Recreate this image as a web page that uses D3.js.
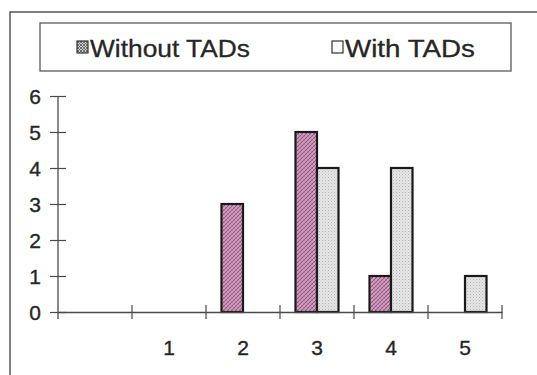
<!DOCTYPE html>
<html>
<head>
<meta charset="utf-8">
<script src="https://cdn.jsdelivr.net/npm/d3@7"></script>
<style>
  html, body { margin: 0; padding: 0; background: #fff; }
  svg { display: block; font-family: "Liberation Sans", Arial, sans-serif; }
</style>
</head>
<body>
<svg id="chart" width="537" height="375"></svg>
<script>
// Category labels along the x axis (the first slot is left blank)
const xLabels = ["", "1", "2", "3", "4", "5"];
const seriesNames = ["Without TADs", "With TADs"];
const withoutTADs = [0, 0, 3, 5, 1, 0];
const withTADs = [0, 0, 0, 4, 4, 1];
const yTicks = [0, 1, 2, 3, 4, 5, 6];

const svg = d3.select("#chart");
const ink = "#262626";
const axisInk = "#4a4a4a";

// Hatch patterns for the two series
const defs = svg.append("defs");
const pPink = defs.append("pattern").attr("id", "pinkHatch")
  .attr("patternUnits", "userSpaceOnUse").attr("width", 4).attr("height", 4);
pPink.append("rect").attr("width", 4).attr("height", 4).attr("fill", "#d49cc2");
pPink.append("path").attr("d", "M0,4 L4,0 M-1,1 L1,-1 M3,5 L5,3")
  .attr("stroke", "#835271").attr("stroke-width", 0.9);
pPink.append("path").attr("d", "M0,0 L4,4")
  .attr("stroke", "#a46b90").attr("stroke-width", 0.6);

const pGray = defs.append("pattern").attr("id", "grayDots")
  .attr("patternUnits", "userSpaceOnUse").attr("width", 3).attr("height", 3);
pGray.append("rect").attr("width", 3).attr("height", 3).attr("fill", "#e6e6e6");
pGray.append("rect").attr("x", 0).attr("y", 0).attr("width", 1).attr("height", 1).attr("fill", "#b5b5b5");
pGray.append("rect").attr("x", 1.5).attr("y", 1.5).attr("width", 1).attr("height", 1).attr("fill", "#c6c6c6");

const pLegend = defs.append("pattern").attr("id", "legendHatch")
  .attr("patternUnits", "userSpaceOnUse").attr("width", 3).attr("height", 3);
pLegend.append("rect").attr("width", 3).attr("height", 3).attr("fill", "#d0d0d0");
pLegend.append("path").attr("d", "M0,3 L3,0 M0,0 L3,3")
  .attr("stroke", "#555").attr("stroke-width", 0.8);

// Outer frame (left and top edges)
svg.append("path")
  .attr("d", "M10,375 L10,12 L537,12")
  .attr("fill", "none").attr("stroke", "#555").attr("stroke-width", 1.5);

// Scales
const x = d3.scaleBand().domain(xLabels).range([58, 502]).paddingInner(0).paddingOuter(0);
const xs = d3.scaleBand().domain(seriesNames).range([0, x.bandwidth()])
  .paddingInner(0).paddingOuter(0.72);
const y = d3.scaleLinear().domain([0, 6]).range([312, 96]);

const rows = xLabels.map((c, i) => ({ c, vals: [withoutTADs[i], withTADs[i]] }));
const fills = ["url(#pinkHatch)", "url(#grayDots)"];

// Bars
const groups = svg.append("g").selectAll("g").data(rows).join("g")
  .attr("transform", d => `translate(${x(d.c)},0)`);
groups.selectAll("rect")
  .data(d => d.vals.map((v, j) => ({ v, name: seriesNames[j], j })).filter(e => e.v > 0))
  .join("rect")
  .attr("x", e => xs(e.name))
  .attr("width", xs.bandwidth())
  .attr("y", e => y(e.v))
  .attr("height", e => y(0) - y(e.v))
  .attr("fill", e => fills[e.j])
  .attr("stroke", "#1a1a1a").attr("stroke-width", 2.2);

// Y axis with ticks crossing the line
const yAxis = svg.append("g").attr("transform", "translate(58,0)")
  .call(d3.axisLeft(y).tickValues(yTicks).tickFormat(d3.format("d")).tickSize(8).tickSizeOuter(0));
yAxis.select(".domain").attr("d", `M0,${y(6)}V${y(0) + 7}`).attr("stroke", axisInk).attr("stroke-width", 1.3);
yAxis.selectAll(".tick line").attr("x1", -8).attr("x2", 8).attr("stroke", axisInk).attr("stroke-width", 1.2);
yAxis.selectAll(".tick text").attr("x", -17).attr("dy", "0.36em")
  .attr("font-size", 21).attr("fill", ink)
  .attr("stroke", ink).attr("stroke-width", 0.35)
  .attr("font-family", "'Liberation Sans', Arial, sans-serif");

// X axis: labels at band centres, ticks on band boundaries
const xAxis = svg.append("g").attr("transform", `translate(0,${y(0)})`)
  .call(d3.axisBottom(x).tickSize(0).tickSizeOuter(0));
xAxis.select(".domain").attr("stroke", axisInk).attr("stroke-width", 1.3);
xAxis.selectAll(".tick text").attr("y", 43).attr("dy", 0)
  .attr("font-size", 21).attr("fill", ink)
  .attr("stroke", ink).attr("stroke-width", 0.35)
  .attr("font-family", "'Liberation Sans', Arial, sans-serif");
const bounds = xLabels.map(c => x(c)).concat([x.range()[1]]);
xAxis.selectAll("line.bound").data(bounds.slice(1)).join("line")
  .attr("class", "bound")
  .attr("x1", d => d).attr("x2", d => d)
  .attr("y1", -7).attr("y2", 7)
  .attr("stroke", axisInk).attr("stroke-width", 1.2);

// Legend
const legend = svg.append("g");
legend.append("rect").attr("x", 40).attr("y", 23).attr("width", 471).attr("height", 48)
  .attr("fill", "#fff").attr("stroke", "#666").attr("stroke-width", 1.4);
const legendItems = [
  { name: seriesNames[0], sx: 77, tx: 90, w: 160, fill: "url(#legendHatch)" },
  { name: seriesNames[1], sx: 332, tx: 345, w: 130, fill: "#fafafa" }
];
const li = legend.selectAll("g.item").data(legendItems).join("g").attr("class", "item");
li.append("rect").attr("x", d => d.sx).attr("y", 41).attr("width", 11).attr("height", 12)
  .attr("fill", d => d.fill).attr("stroke", "#333").attr("stroke-width", 1.2);
li.append("text").attr("x", d => d.tx).attr("y", 57)
  .attr("font-size", 23).attr("fill", ink)
  .attr("stroke", ink).attr("stroke-width", 0.3)
  .attr("textLength", d => d.w).attr("lengthAdjust", "spacingAndGlyphs")
  .text(d => d.name);
</script>
</body>
</html>
